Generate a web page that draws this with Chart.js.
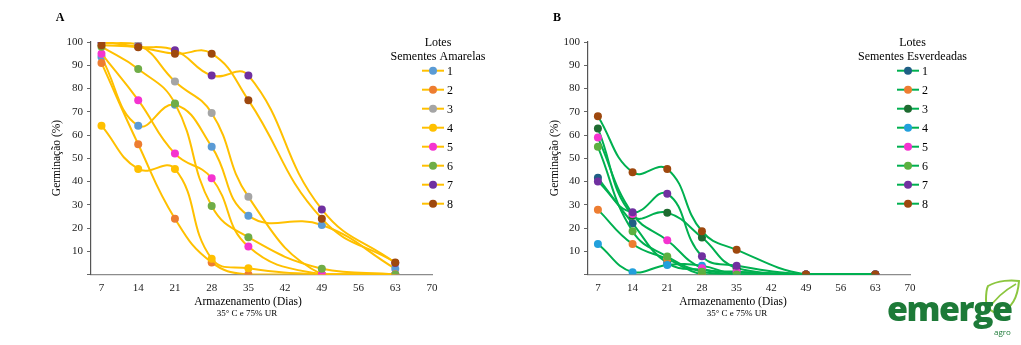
<!DOCTYPE html>
<html>
<head>
<meta charset="utf-8">
<script src="https://cdn.jsdelivr.net/npm/chart.js@4.4.1/dist/chart.umd.min.js"></script>
<style>
  html, body { margin: 0; padding: 0; background: #fff; }
  #wrap { position: relative; width: 1021px; height: 345px; overflow: hidden; }
  #chartA { position: absolute; left: 0; top: 0; }
  #chartB { position: absolute; left: 510px; top: 0; }
  #logo { position: absolute; left: 880px; top: 276px; width: 141px; height: 65px; }
  #logo .word { position: absolute; left: 7px; top: 12px; font-family: "Open Sans", "Noto Sans", sans-serif;
    font-weight: 800; font-size: 34px; color: #1d7a38; letter-spacing: -1.5px; line-height: 40px; }
  #logo .agro { position: absolute; left: 114px; top: 50px; font-family: "Open Sans", sans-serif;
    font-size: 8px; color: #1d7a38; }
</style>
</head>
<body>
<div id="wrap">
  <canvas id="chartA" width="510" height="345"></canvas>
  <canvas id="chartB" width="511" height="345"></canvas>
  <div id="logo">
    <svg width="141" height="65" style="position:absolute;left:0;top:0">
      <path d="M108 10 C 118 4, 132 4, 139 5 C 138 18, 134 32, 120 36 C 112 38, 106 32, 106 24 C 106 18, 106 14, 108 10 Z" fill="none" stroke="#8cc63f" stroke-width="2"/>
      <path d="M109 33 C 114 24, 122 16, 136 8" fill="none" stroke="#8cc63f" stroke-width="1.5"/>
    </svg>
    <div class="word">emerge</div>
    <div class="agro">agro</div>
  </div>
</div>
<script>
// days of storage (x values)
const days = [7, 14, 21, 28, 35, 49, 63];
const xTickValues = [7, 14, 21, 28, 35, 42, 49, 56, 63, 70];
const lots = ['1', '2', '3', '4', '5', '6', '7', '8'];

// A - Sementes Amarelas (germinação %)
const amarela1 = [93.5, 64, 73, 55, 25.3, 21.3, 2.5];
const amarela2 = [91, 56, 24, 5.2, 0, 0, 0];
const amarela3 = [99.5, 99, 83, 69.5, 33.4, 0, 0];
const amarela4 = [64, 45.4, 45.4, 6.8, 2.7, 0, 0];
const amarela5 = [95, 75, 52, 41.4, 12, 0, 0];
const amarela6 = [98, 88.4, 73.6, 29.5, 16, 2.5, 0];
const amarela7 = [100.3, 98, 96.4, 85.6, 85.6, 28, 5];
const amarela8 = [98.6, 97.7, 95, 95, 75, 24, 5.2];

// B - Sementes Esverdeadas (germinação %)
const verde1 = [41.6, 22, 5, 2, 1, 0, 0];
const verde2 = [27.9, 13.1, 6.7, 0, 0, 0, 0];
const verde3 = [62.8, 25.3, 26.6, 15.9, 2.7, 0, 0];
const verde4 = [13.1, 1, 4.1, 3.8, 0, 0, 0];
const verde5 = [58.9, 26, 14.7, 2.7, 1.2, 0, 0];
const verde6 = [54.9, 18.6, 7.7, 1.2, 0, 0, 0];
const verde7 = [40, 26.8, 34.7, 7.8, 3.8, 0, 0];
const verde8 = [68.1, 44, 45.4, 18.6, 10.6, 0, 0];

const markersA = ['#5b9bd5', '#ed7d31', '#a5a5a5', '#ffc000', '#f533d0', '#70ad47', '#7030a0', '#9e480e'];
const markersB = ['#1f5f85', '#ed7d31', '#1e6b30', '#22a0dc', '#f533d0', '#5cb040', '#7030a0', '#9e480e'];

const SERIF = '"Liberation Serif", "Times New Roman", serif';

function makeDatasets(series, lineColor, markers) {
  return series.map((vals, i) => ({
    label: lots[i],
    data: days.map((d, k) => ({ x: d, y: vals[k] })),
    borderColor: lineColor,
    borderWidth: 2,
    tension: 0.45,
    pointRadius: 4,
    pointBorderWidth: 0,
    pointBackgroundColor: markers[i],
    pointBorderColor: markers[i],
    order: series.length - i   // later lots drawn on top, like Excel
  }));
}

// extra texts and legend drawn on the canvas
const extras = {
  id: 'extras',
  afterDraw(chart, args, o) {
    const ctx = chart.ctx;
    ctx.save();
    ctx.fillStyle = '#000';
    ctx.textAlign = 'center';
    ctx.textBaseline = 'middle';
    // panel letter
    ctx.font = 'bold 12px ' + SERIF;
    ctx.fillText(o.letter, o.letterX, 18);
    // axis titles
    ctx.font = '11.5px ' + SERIF;
    ctx.fillText('Armazenamento (Dias)', o.titleX, 302);
    ctx.font = '9px ' + SERIF;
    ctx.fillText('35° C e 75% UR', o.subX, 314);
    ctx.save();
    ctx.translate(o.yTitleX, 158);
    ctx.rotate(-Math.PI / 2);
    ctx.font = '11.5px ' + SERIF;
    ctx.fillText('Germinação (%)', 0, 0);
    ctx.restore();
    // legend
    ctx.font = '12px ' + SERIF;
    ctx.fillText('Lotes', o.legTitleX, 43);
    ctx.fillText(o.legTitle, o.legTitleX, 57);
    ctx.textAlign = 'left';
    chart.data.datasets.forEach((ds, i) => {
      const y = 70.7 + i * 19;
      ctx.strokeStyle = ds.borderColor;
      ctx.lineWidth = 2;
      ctx.beginPath();
      ctx.moveTo(o.legX - 11, y);
      ctx.lineTo(o.legX + 11, y);
      ctx.stroke();
      ctx.fillStyle = ds.pointBackgroundColor;
      ctx.beginPath();
      ctx.arc(o.legX, y, 4, 0, Math.PI * 2);
      ctx.fill();
      ctx.fillStyle = '#000';
      ctx.fillText(ds.label, o.legX + 14, y + 1);
    });
    ctx.restore();
  }
};

function makeChart(id, datasets, left, right, extraOpts) {
  return new Chart(document.getElementById(id), {
    type: 'line',
    data: { datasets },
    plugins: [extras],
    options: {
      responsive: false,
      animation: false,
      layout: { padding: { left: 0, right: right, top: 42, bottom: 0 } },
      plugins: {
        legend: { display: false },
        tooltip: { enabled: false },
        extras: extraOpts
      },
      scales: {
        x: {
          type: 'linear',
          min: 5,
          max: 70,
          afterBuildTicks: s => { s.ticks = xTickValues.map(v => ({ value: v })); },
          afterFit: s => { s.height = 70.5; },
          grid: { display: false, drawTicks: false },
          border: { color: '#8c8c8c', width: 1.2 },
          ticks: { padding: 7, color: '#222', font: { family: SERIF, size: 11 }, maxRotation: 0, autoSkip: false }
        },
        y: {
          min: 0,
          max: 100,
          afterFit: s => { s.width = left; },
          grid: { drawOnChartArea: false, drawTicks: true, tickLength: 4, color: '#666' },
          border: { color: '#555', width: 1.2 },
          ticks: {
            stepSize: 10,
            padding: 4,
            color: '#222',
            font: { family: SERIF, size: 11 },
            callback: v => (v === 0 ? '' : v)
          }
        }
      }
    }
  });
}

makeChart('chartA',
  makeDatasets([amarela1, amarela2, amarela3, amarela4, amarela5, amarela6, amarela7, amarela8], '#ffc000', markersA),
  91, 78,
  { letter: 'A', letterX: 60, titleX: 248, subX: 247, yTitleX: 57, legTitle: 'Sementes Amarelas', legTitleX: 438, legX: 433 });

makeChart('chartB',
  makeDatasets([verde1, verde2, verde3, verde4, verde5, verde6, verde7, verde8], '#00b050', markersB),
  78, 111,
  { letter: 'B', letterX: 47, titleX: 223, subX: 227, yTitleX: 45, legTitle: 'Sementes Esverdeadas', legTitleX: 402.5, legX: 398 });
</script>
</body>
</html>
